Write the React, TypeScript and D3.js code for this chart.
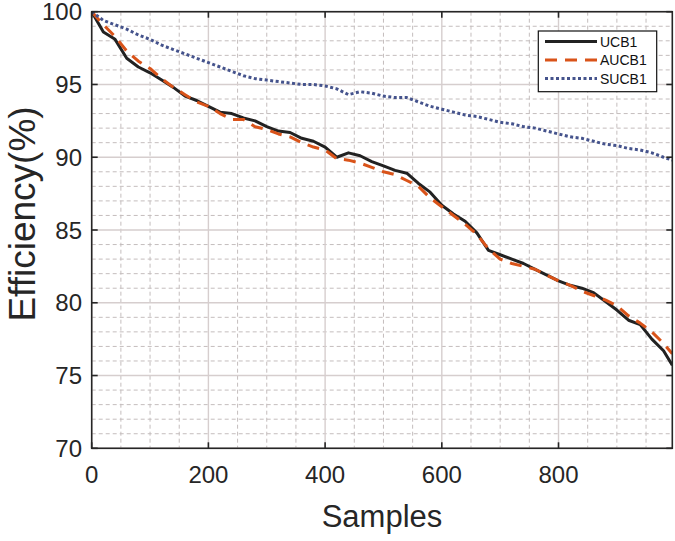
import React from "react";
import * as d3 from "d3";

const samples = [
  0, 20, 40, 60, 80, 100, 120, 140, 160, 180, 200, 220, 240, 260, 280, 300, 320, 340, 360, 380,
  400, 420, 440, 460, 480, 500, 520, 540, 560, 580, 600, 620, 640, 660, 680, 700, 720, 740, 760, 780,
  800, 820, 840, 860, 880, 900, 920, 940, 960, 980, 995,
];

const ucb1 = [
  100, 98.6, 98.1, 96.8, 96.2, 95.8, 95.3, 94.8, 94.2, 93.9, 93.5, 93.1, 93.0, 92.7, 92.5, 92.1, 91.8, 91.7, 91.3, 91.1,
  90.7, 90.0, 90.3, 90.1, 89.7, 89.4, 89.1, 88.9, 88.2, 87.6, 86.7, 86.1, 85.6, 84.8, 83.6, 83.3, 83.0, 82.7, 82.3, 81.9,
  81.5, 81.2, 81.0, 80.7, 80.1, 79.5, 78.8, 78.5, 77.5, 76.7, 75.7,
];

const aucb1 = [
  100, 99.1, 98.3, 97.3, 96.6, 96.1, 95.4, 94.8, 94.3, 93.8, 93.5, 93.0, 92.6, 92.6, 92.1, 91.9, 91.6, 91.4, 91.0, 90.7,
  90.5, 89.9, 89.8, 89.6, 89.3, 89.0, 88.8, 88.4, 88.0, 87.2, 86.6, 86.0, 85.4, 84.7, 83.7, 83.0, 82.7, 82.5, 82.3, 81.9,
  81.5, 81.2, 80.8, 80.5, 80.2, 79.8, 79.1, 78.6, 78.0, 77.2, 76.5,
];

const sucb1 = [
  100, 99.4, 99.1, 98.8, 98.4, 98.1, 97.7, 97.4, 97.1, 96.8, 96.5, 96.2, 95.9, 95.6, 95.4, 95.3, 95.2, 95.1, 95.0, 95.0,
  94.9, 94.7, 94.3, 94.5, 94.4, 94.2, 94.1, 94.1, 93.8, 93.5, 93.3, 93.1, 92.9, 92.8, 92.6, 92.4, 92.3, 92.1, 92.0, 91.8,
  91.6, 91.4, 91.3, 91.1, 90.9, 90.8, 90.6, 90.5, 90.3, 90.0, 89.8,
];

const xTicks = [0, 200, 400, 600, 800];
const yTicks = [70, 75, 80, 85, 90, 95, 100];

const series = [
  { name: "UCB1", values: ucb1, color: "#222222", dash: "none" },
  { name: "AUCB1", values: aucb1, color: "#d95319", dash: "12,8" },
  { name: "SUCB1", values: sucb1, color: "#45538c", dash: "3,2.5" },
];

const W = 675;
const H = 541;
const left = 91.7, right = 672.3, top = 11.7, bottom = 448.3;
const axisColor = "#262626";
const font = "'Liberation Sans', Arial, Helvetica, sans-serif";

export default function App() {
  const x = d3.scaleLinear().domain([0, 995]).range([left, right]);
  const y = d3.scaleLinear().domain([70, 100]).range([bottom, top]);

  const minorX = d3.range(50, 995, 50).filter((v) => v % 200 !== 0);
  const minorY = d3.range(71, 100, 1).filter((v) => v % 5 !== 0);

  const line = d3
    .line<number>()
    .x((_, i) => x(samples[i]))
    .y((d) => y(d));

  const tickLen = 6;

  return (
    <svg
      width={W}
      height={H}
      style={{ position: "absolute", left: 0, top: 0, background: "#fff" }}
      fontFamily={font}
    >
      <defs>
        <clipPath id="plot">
          <rect x={left} y={top} width={right - left} height={bottom - top} />
        </clipPath>
      </defs>
      <rect x={0} y={0} width={W} height={H} fill="#fff" />

      {/* minor grid */}
      {minorX.map((v) => (
        <line key={"mx" + v} x1={x(v)} x2={x(v)} y1={top} y2={bottom} stroke="#c4bdbd" strokeDasharray="4,3" />
      ))}
      {minorY.map((v) => (
        <line key={"my" + v} x1={left} x2={right} y1={y(v)} y2={y(v)} stroke="#c4bdbd" strokeDasharray="4,3" />
      ))}
      {/* major grid */}
      {xTicks.map((v) => (
        <line key={"gx" + v} x1={x(v)} x2={x(v)} y1={top} y2={bottom} stroke="#d6cece" strokeWidth={1.4} />
      ))}
      {yTicks.map((v) => (
        <line key={"gy" + v} x1={left} x2={right} y1={y(v)} y2={y(v)} stroke="#d6cece" strokeWidth={1.4} />
      ))}

      {/* curves */}
      <g clipPath="url(#plot)">
        {series.map((s) => (
          <path
            key={s.name}
            d={line(s.values) ?? ""}
            fill="none"
            stroke={s.color}
            strokeWidth={3}
            strokeDasharray={s.dash}
            strokeLinejoin="round"
          />
        ))}
      </g>

      {/* box and ticks */}
      <rect x={left} y={top} width={right - left} height={bottom - top} fill="none" stroke={axisColor} strokeWidth={1.6} />
      {xTicks.map((v) => (
        <g key={"tx" + v} stroke={axisColor} strokeWidth={1.6}>
          <line x1={x(v)} x2={x(v)} y1={bottom} y2={bottom - tickLen} />
          <line x1={x(v)} x2={x(v)} y1={top} y2={top + tickLen} />
        </g>
      ))}
      {yTicks.map((v) => (
        <g key={"ty" + v} stroke={axisColor} strokeWidth={1.6}>
          <line x1={left} x2={left + tickLen} y1={y(v)} y2={y(v)} />
          <line x1={right} x2={right - tickLen} y1={y(v)} y2={y(v)} />
        </g>
      ))}

      {/* tick labels */}
      {xTicks.map((v) => (
        <text key={"lx" + v} x={x(v)} y={483} textAnchor="middle" fontSize={24} fill={axisColor}>
          {v}
        </text>
      ))}
      {yTicks.map((v) => (
        <text key={"ly" + v} x={82} y={y(v)} dy="0.36em" textAnchor="end" fontSize={24} fill={axisColor}>
          {v}
        </text>
      ))}

      {/* axis labels */}
      <text x={(left + right) / 2} y={527} textAnchor="middle" fontSize={31} fill={axisColor}>
        Samples
      </text>
      <text
        transform={`translate(35, 214) rotate(-90)`}
        textAnchor="middle"
        fontSize={37}
        fill={axisColor}
      >
        Efficiency(%)
      </text>

      {/* legend */}
      <rect x={538.3} y={31} width={118.4} height={60.7} fill="#fff" stroke="#111" strokeWidth={1.2} />
      {series.map((s, i) => {
        const ly = 41.5 + i * 18.5;
        return (
          <g key={"lg" + s.name}>
            <line x1={545} x2={597} y1={ly} y2={ly} stroke={s.color} strokeWidth={3} strokeDasharray={s.dash} />
            <text x={600} y={ly} dy="0.36em" fontSize={14} fill="#111">
              {s.name}
            </text>
          </g>
        );
      })}
    </svg>
  );
}
